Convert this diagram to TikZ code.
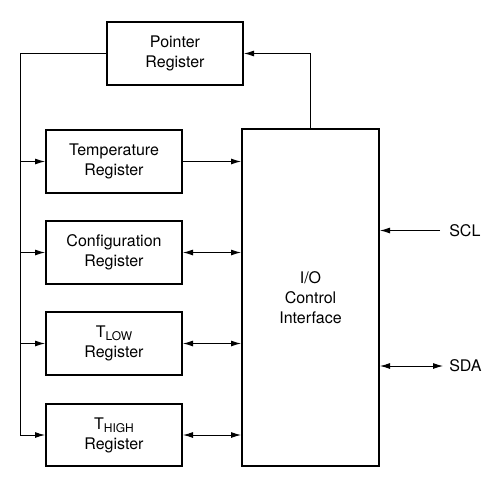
\documentclass[tikz,border=0pt]{standalone}
\usepackage{fontspec}
\setmainfont{TeX Gyre Heros}
\usetikzlibrary{arrows.meta}
\begin{document}
\begin{tikzpicture}[x=0.75pt,y=-0.75pt,
  box/.style={draw, line width=1.5pt, inner sep=0pt, align=center, font=\fontsize{12}{15}\selectfont},
  conn/.style={line width=0.7pt},
  tip/.style={-{Latex[length=7.5pt,width=4.5pt]}},
  dtip/.style={{Latex[length=7.5pt,width=4.5pt]}-{Latex[length=7.5pt,width=4.5pt]}},
  lbl/.style={font=\fontsize{12}{14}\selectfont, anchor=west, inner sep=0pt}]
\useasboundingbox (0,0) rectangle (502,478);
\newcommand{\sbx}[1]{\raisebox{-0.35ex}{\fontsize{9}{10}\selectfont #1}}
\node[box, minimum width=102pt, minimum height=47pt] (ptr) at (175,53.5) {Pointer\\Register};
\node[box, minimum width=102pt, minimum height=47pt] (temp) at (114,161.5) {Temperature\\Register};
\node[box, minimum width=102pt, minimum height=47pt] (conf) at (114,252.5) {Configuration\\Register};
\node[box, minimum width=102pt, minimum height=47pt] (tlow) at (114,343.5) {T\sbx{LOW}\\Register};
\node[box, minimum width=102pt, minimum height=47pt] (thigh) at (114,435) {T\sbx{HIGH}\\Register};
\node[box, minimum width=102.75pt, minimum height=252.75pt] (io) at (310.5,297.5) {I/O\\Control\\Interface};
\coordinate (busT) at (20,53.5);
\coordinate (busB) at (20,435);
\coordinate (ioT) at (310,53.5);
\coordinate (scl) at (440,230.5);
\coordinate (sda) at (443,366);
\draw[conn] (ptr.west) -- (busT) -- (busB);
\draw[conn,tip] (busB) -- (thigh.west);
\draw[conn,tip] (20,343.5) -- (tlow.west);
\draw[conn,tip] (20,252.5) -- (conf.west);
\draw[conn,tip] (20,161.5) -- (temp.west);
\draw[conn,tip] (temp.east) -- (temp.east -| io.west);
\draw[conn,dtip] (conf.east) -- (conf.east -| io.west);
\draw[conn,dtip] (tlow.east) -- (tlow.east -| io.west);
\draw[conn,dtip] (thigh.east) -- (thigh.east -| io.west);
\draw[conn,tip] (io.north -| ioT) -- (ioT) -- (ptr.east);
\draw[conn,tip] (scl) -- (scl -| io.east);
\draw[conn,dtip] (sda -| io.east) -- (sda);
\node[lbl] (scllbl) at (449,230.5) {SCL};
\node[lbl] (sdalbl) at (449,366) {SDA};
\end{tikzpicture}
\end{document}
